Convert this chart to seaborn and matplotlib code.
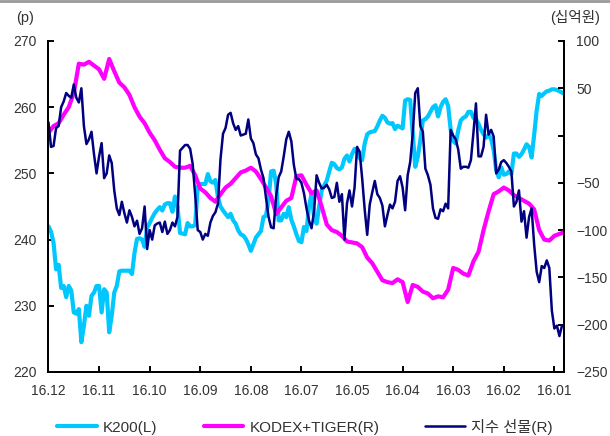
import numpy as np
import pandas as pd
import matplotlib
matplotlib.use("Agg")
import matplotlib.pyplot as plt
from matplotlib.lines import Line2D
import seaborn as sns

sns.set_style("white")
plt.rcParams["font.family"] = ["Liberation Sans", "Noto Sans CJK KR"]
plt.rcParams["axes.unicode_minus"] = True

# Half-day sampled series, newest on the left (16.12) to oldest on the right (16.01)
k200 = [242, 241.2, 239.5, 235.5, 236.2, 232.7, 233, 231.3, 233, 232.3,
        229, 228.8, 229.5, 224.5, 227, 230, 228.5, 231.5, 232, 233,
        233, 229, 232.5, 232, 226, 228.5, 232, 233, 235.2, 235.3,
        235.3, 235.3, 235.3, 234.8, 238, 240.1, 240.2, 240, 238.9, 241.8,
        242.5, 243.3, 244, 244.5, 244.9, 244.4, 245.3, 245.5, 245.5, 244.2,
        246.5, 245, 241, 240.9, 240.8, 242.5, 242, 242, 242.2, 248,
        248.4, 248.4, 248.4, 249.9, 248.8, 248.6, 249, 246.4, 245, 244.4,
        243.9, 243.4, 243.9, 242.9, 242.4, 241.4, 240.8, 240.6, 240.1, 239.3,
        238.3, 239.3, 240.3, 240.8, 241.3, 243.4, 243.6, 246, 250.3, 250.4,
        248.5, 242.9, 242.9, 243.9, 243.4, 244.9, 243, 242, 240.8, 239.8,
        239.6, 241.9, 241.3, 245, 246.9, 243.4, 242.4, 245, 247.4, 248.2,
        248.9, 250.3, 251.6, 251.4, 250.8, 250.6, 250.9, 252.2, 252.7, 251.8,
        252.9, 253.7, 253.2, 252.3, 252, 254.5, 255.9, 256.2, 256.3, 256.4,
        257.1, 258, 258.7, 258.4, 257.7, 257.5, 257.6, 256.7, 257.2, 257,
        256.8, 261, 261.2, 261.1, 256, 251, 252.5, 255, 258, 258.2,
        258.6, 259.3, 260, 260.3, 258.6, 260, 260.8, 261.2, 260.2, 256.6,
        254.9, 254.5, 256.5, 258, 258.4, 258.6, 259.3, 259.3, 258.4, 258.2,
        257.5, 256.6, 255.9, 255.4, 255.8, 255.2, 253.5, 250.5, 249.4, 250.9,
        249.8, 249.9, 250.3, 249.9, 253, 253, 252.5, 252.9, 253.6, 254.4,
        254, 252.4, 255.8, 259.5, 262, 261.7, 262.1, 262.4, 262.5, 262.7,
        262.7, 262.6, 262.4, 262.2, 262]

futures = [14, -12, -11, 8, 10, 30, 36, 45, 42, 40,
           54, 40, 35, 50, 10, -9, -4, 4, -20, -40,
           -22, -8, -45, -40, -21, -29, -58, -77, -84, -70,
           -82, -92, -79, -86, -96, -90, -104, -98, -75, -120,
           -100, -110, -95, -93, -92, -102, -91, -104, -100, -92,
           -96, -86, -16, -13, -10, -10, -14, -30, -63, -100,
           -102, -110, -104, -106, -92, -85, -81, -72, -25, 2,
           8, 22, 24, 13, 6, 10, 0, 1, 2, 17,
           -3, -8, -20, -24, -36, -45, -66, -86, -97, -98,
           -64, -44, -38, -22, -4, 4, -6, -31, -46, -46,
           -50, -61, -77, -90, -98, -80, -42, -50, -56, -55,
           -52, -57, -66, -65, -50, -70, -62, -110, -72, -58,
           -75, -55, -12, -17, -45, -78, -105, -73, -60, -48,
           -62, -66, -74, -96, -84, -73, -77, -70, -48, -43,
           -55, -79, -42, -28, 2, 45, 50, 10, 4, -35,
           -42, -52, -77, -87, -88, -78, -80, -72, -77, 6,
           0, -4, -15, -35, -33, -33, -34, -26, 3, 34,
           -22, -22, -12, 22, 1, 6, -1, -40, -36, -28,
           -26, -29, -33, -38, -75, -70, -58, -91, -80, -108,
           -86, -77, -115, -144, -155, -138, -140, -132, -140, -185,
           -204, -201, -212, -201, -202]

# Daily series
kodex_tiger = [3, 10, 13, 22, 30, 45, 76, 75, 78, 74,
               70, 60, 81, 68, 56, 51, 43, 30, 20, 13,
               3, -5, -15, -24, -28, -33, -34, -34, -32, -42,
               -56, -60, -66, -70, -62, -55, -51, -45, -39, -37,
               -34, -38, -46, -55, -64, -83, -76, -69, -66, -43,
               -42, -52, -61, -58, -75, -94, -100, -102, -106, -112,
               -113, -114, -118, -129, -135, -144, -153, -155, -156, -152,
               -155, -176, -158, -160, -165, -167, -172, -170, -171, -163,
               -140, -142, -146, -148, -133, -123, -100, -80, -62, -59,
               -55, -58, -63, -66, -69, -72, -78, -100, -110, -111,
               -106, -104, -102]

month_labels = ["16.12", "16.11", "16.10", "16.09", "16.08", "16.07",
                "16.05", "16.04", "16.03", "16.02", "16.01"]
left_ticks = [220, 230, 240, 250, 260, 270]
right_ticks = [-250, -200, -150, -100, -50, 0, 50, 100]

half = pd.DataFrame({"day": np.arange(len(k200)) * 0.5,
                     "k200": k200, "fut": futures})
daily = pd.DataFrame({"day": np.arange(len(kodex_tiger)), "etf": kodex_tiger})

C_K200 = "#00C8FF"
C_ETF = "#FF00FF"
C_FUT = "#000080"
TXT = "#333333"

fig = plt.figure(figsize=(6.1, 4.36), dpi=100)
ax = fig.add_axes([0.0795, 0.1468, 0.8459, 0.7592])
ax2 = ax.twinx()

sns.lineplot(data=half, x="day", y="k200", ax=ax, color=C_K200, lw=3.0)
sns.lineplot(data=daily, x="day", y="etf", ax=ax2, color=C_ETF, lw=3.0)
sns.lineplot(data=half, x="day", y="fut", ax=ax2, color=C_FUT, lw=1.8)

ax.set_xlim(0, 102)
ax.set_ylim(220, 270)
ax2.set_ylim(-250, 100)

ax.set_xticks(np.arange(0, 101, 10))
ax.set_xticklabels(month_labels)
ax.set_yticks(left_ticks)
ax.set_yticklabels([str(v) for v in left_ticks])
ax2.set_yticks(right_ticks)
ax2.set_yticklabels(["" if v == 0 else str(v).replace("-", "\u2212")
                     for v in right_ticks])

for a in (ax, ax2):
    a.set_xlabel("")
    a.set_ylabel("")
    a.spines["top"].set_visible(False)
    for s in ("left", "right", "bottom"):
        a.spines[s].set_linewidth(1.4)
        a.spines[s].set_color("black")
    a.tick_params(direction="in", length=4, width=1.4, colors="black",
                  labelcolor=TXT, labelsize=10, pad=8.5)
ax.tick_params(axis="y", left=True, right=False)
ax.tick_params(axis="x", bottom=True)
ax2.tick_params(axis="y", right=True, left=False)

fig.text(0.041, 0.9587, "(p)", ha="center", va="center", fontsize=10.5, color=TXT)
fig.text(0.9426, 0.961, "(십억원)", ha="center", va="center", fontsize=10.5, color=TXT)

# thin grey rule across the top edge
fig.add_artist(Line2D([0, 1], [1 - 1.3 / 436, 1 - 1.3 / 436],
                      transform=fig.transFigure, color="#999999", lw=2.0))

handles = [Line2D([], [], color=C_K200, lw=3.0),
           Line2D([], [], color=C_ETF, lw=3.0),
           Line2D([], [], color=C_FUT, lw=1.8)]
labels = ["K200(L)", "KODEX+TIGER(R)", "지수 선물(R)"]
fig.legend(handles, labels, loc="center", bbox_to_anchor=(0.5, 0.0213),
           ncol=3, frameon=False, handlelength=2.6, handletextpad=0.4,
           columnspacing=3.0, fontsize=11, labelcolor=TXT)

fig.savefig("out.png", dpi=100)
